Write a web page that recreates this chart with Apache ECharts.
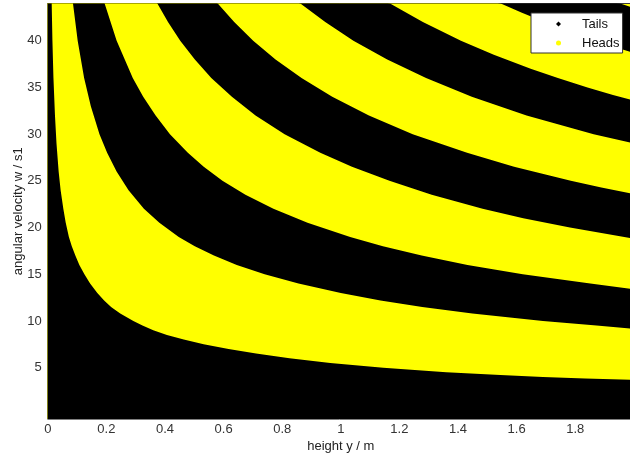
<!DOCTYPE html>
<html>
<head>
<meta charset="utf-8">
<script src="https://cdn.jsdelivr.net/npm/echarts@6/dist/echarts.min.js"></script>
<style>html,body{margin:0;padding:0;background:#fff;}#c{width:630px;height:455px;}</style>
</head>
<body>
<div id="c"></div>
<script>
// Boundary curves between Tails (black) and Heads (yellow) regions as [height y, angular velocity w]
const b1 = [[0,50],[0.0133,44],[0.0158,40],[0.0193,36],[0.0245,32],[0.0297,29],[0.037,26],[0.0438,24],[0.053,22],[0.0612,20.5],[0.072,19],[0.0819,18],[0.094,17],[0.1077,16],[0.125,15],[0.1444,14],[0.169,13],[0.1923,12.2],[0.216,11.5],[0.2472,10.8],[0.292,10],[0.3231,9.5],[0.36,9],[0.4066,8.5],[0.464,8],[0.5319,7.5],[0.617,7],[0.7108,6.5],[0.825,6],[0.964,5.5],[1.145,5],[1.36,4.5],[1.5447,4.2],[1.69,4],[1.8338,3.84],[2,3.68]];
const b2 = [[0,50],[0.086,44],[0.102,40],[0.124,36],[0.1469,33],[0.1764,30],[0.2025,28],[0.2348,26],[0.2756,24],[0.328,22],[0.3808,20.5],[0.447,19],[0.5017,18],[0.567,17],[0.645,16],[0.74,15],[0.8556,14],[1.0,13],[1.1354,12.2],[1.278,11.5],[1.4489,10.8],[1.69,10],[1.8726,9.5],[2,9.15]];
const b3 = [[0,50],[0.194,44],[0.235,40],[0.29,36],[0.3256,34],[0.368,32],[0.4169,30],[0.478,28],[0.5321,26.5],[0.596,25],[0.6745,23.5],[0.77,22],[0.8864,20.5],[1.032,19],[1.1437,18],[1.276,17],[1.4325,16],[1.621,15],[1.8515,14],[2,13.4]];
const b4 = [[0,50],[0.374,44],[0.4102,42],[0.452,40],[0.5019,38],[0.558,36],[0.6283,34],[0.709,32],[0.8082,30],[0.93,28],[1.0381,26.5],[1.166,25],[1.3103,23.5],[1.484,22],[1.6226,21],[1.782,20],[2,18.8]];
const b5 = [[0,50],[0.58,44],[0.6362,42],[0.701,40],[0.7772,38],[0.866,36],[0.9708,34],[1.096,32],[1.2455,30],[1.431,28],[1.5914,26.5],[1.785,25],[1.8892,24.3],[2,23.6]];
const b6 = [[0,50],[0.862,44],[0.9469,42],[1.043,40],[1.1585,38],[1.291,36],[1.4471,34],[1.634,32],[1.863,30],[2,29.0]];
const b7 = [[0,50],[1.168,44],[1.2801,42],[1.41,40],[1.5222,38.5],[1.648,37],[1.7409,36],[1.842,35],[1.929,34.2],[2,33.6]];
const b8 = [[0,50],[1.546,44],[1.6182,43],[1.696,42],[1.78,41],[1.87,40],[1.9373,39.3],[2,38.7]];
const b9 = [[0,50],[1.954,44],[2,43.5]];
// Outcome of the region just below each boundary
const boundaries = [b1, b2, b3, b4, b5, b6, b7, b8, b9];
const regionBelow = ['Tails','Heads','Tails','Heads','Tails','Heads','Tails','Heads','Tails'];
const outcomes = ['Tails','Heads'];
const xTicks = [0,0.2,0.4,0.6,0.8,1,1.2,1.4,1.6,1.8];
const yTicks = [5,10,15,20,25,30,35,40];

const colors = {Tails:'#000000', Heads:'#ffff00'};
const font = 'Liberation Sans, Arial, Helvetica, sans-serif';

const series = [];
for (let i = boundaries.length - 1; i >= 0; i--) {
  const name = regionBelow[i];
  series.push({
    type:'line', name: name, data: boundaries[i],
    showSymbol:false, symbol:'none', silent:true, animation:false,
    lineStyle:{width:0, color:colors[name]},
    itemStyle:{color:colors[name]},
    areaStyle:{color:colors[name], opacity:1, origin:'start'},
    clip:true
  });
}

const chart = echarts.init(document.getElementById('c'), null, {renderer:'canvas'});
chart.setOption({
  animation:false,
  backgroundColor:'#ffffff',
  grid:{left:47.8, top:3.4, width:586, height:415.6, show:true, backgroundColor:colors.Heads, borderWidth:0,
        containLabel:false, outerBoundsMode:'none'},
  legend:{
    data:[{name:outcomes[0], icon:'diamond'},{name:outcomes[1], icon:'circle'}],
    orient:'vertical', left:531, top:13,
    backgroundColor:'#ffffff', borderColor:'#333', borderWidth:1,
    padding:[4,3,3,25],
    itemWidth:5, itemHeight:5, itemGap:5,
    textStyle:{fontFamily:font, fontSize:13, color:'#111', lineHeight:14, padding:[0,0,0,16]},
    selectedMode:false
  },
  xAxis:[{
    type:'value', min:0, max:2, interval:0.2,
    name:'height y / m', nameLocation:'middle', nameGap:21, nameMoveOverlap:false,
    nameTextStyle:{fontFamily:font, fontSize:13, color:'#222'},
    axisLine:{show:true, onZero:false, lineStyle:{color:'#808080', width:1}},
    axisTick:{show:false},
    splitLine:{show:false},
    axisLabel:{customValues:xTicks, fontFamily:font, fontSize:13, color:'#333', margin:4,
      formatter:function(v){return String(Math.round(v*10)/10);}}
  },{
    type:'value', position:'top', min:0, max:2,
    axisLine:{show:true, onZero:false, lineStyle:{color:'#3a3a3a', width:1}},
    axisTick:{show:false}, axisLabel:{show:false}, splitLine:{show:false}
  }],
  yAxis:{
    type:'value', min:-0.5, max:44,
    name:'angular velocity w / s1', nameLocation:'middle', nameGap:22.5, nameMoveOverlap:false,
    nameTextStyle:{fontFamily:font, fontSize:13, color:'#222'},
    axisLine:{show:true, onZero:false, lineStyle:{color:'#808080', width:1}},
    axisTick:{show:false},
    splitLine:{show:false},
    axisLabel:{customValues:yTicks, fontFamily:font, fontSize:13, color:'#333', margin:6}
  },
  series: series
});
</script>
</body>
</html>
